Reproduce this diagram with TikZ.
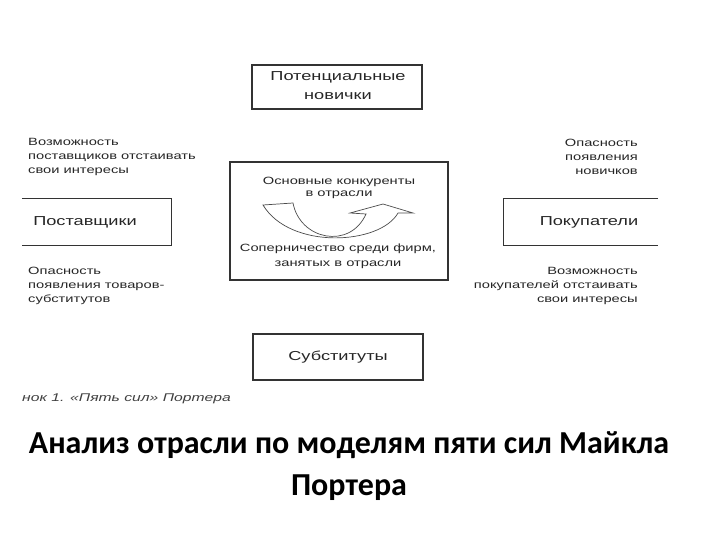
\documentclass[tikz,border=0pt]{standalone}
\usepackage{fontspec}
\setmainfont{Liberation Sans}[FakeStretch=1.4]
\newfontfamily\titlefont{Carlito}[BoldFont={Carlito Bold}]
\begin{document}
\begin{tikzpicture}[x=1pt,y=-1pt,
  box/.style={draw=black!80, line width=1.1pt, inner sep=0pt},
  openbox/.style={inner sep=0pt},
  boxtext/.style={font=\fontsize{13}{19}\selectfont, text=black!85, align=center, inner sep=0pt},
  small/.style={font=\fontsize{10.5}{14}\selectfont, text=black!85, inner sep=0pt},
  ctext/.style={font=\fontsize{10.5}{12}\selectfont, text=black!85, align=center, inner sep=0pt},
  arrowshape/.style={draw=black!70, line width=0.7pt, fill=white, line join=miter}
]
\useasboundingbox (0,0) rectangle (720,540);

% top box
\node[box, minimum width=170pt, minimum height=44pt] (newbox) at (337,87) {};
\node[boxtext] (newtxt) at (338,86) {Потенциальные\\новички};

% center box
\node[box, minimum width=218pt, minimum height=118pt] (center) at (339,221) {};
\node[ctext] (comp) at (339,188) {Основные конкуренты\\в отрасли};
\node[ctext, font=\fontsize{10.5}{15}\selectfont] (rival) at (338,256) {Соперничество среди фирм,\\занятых в отрасли};

% curved arrow
\draw[arrowshape] (263,205) -- (293,203)
   .. controls (300,240) and (350,250) .. (366,214)
   -- (350,213) -- (383,204) -- (413,213) -- (398,213)
   .. controls (380,245) and (290,250) .. (263,205) -- cycle;

% left box (open on the left)
\node[openbox, minimum width=149pt, minimum height=46pt] (supbox) at (96.5,222) {};
\draw[draw=black!80, line width=1.1pt] (supbox.north west) -- (supbox.north east) -- (supbox.south east) -- (supbox.south west);
\node[boxtext] (suptxt) at (85,222) {Поставщики};

% right box (open on the right)
\node[openbox, minimum width=154pt, minimum height=46pt] (buybox) at (581,222) {};
\draw[draw=black!80, line width=1.1pt] (buybox.north east) -- (buybox.north west) -- (buybox.south west) -- (buybox.south east);
\node[boxtext] (buytxt) at (589,222) {Покупатели};

% bottom box
\node[box, minimum width=170pt, minimum height=46pt] (subbox) at (338,357) {};
\node[boxtext] (subtxt) at (338,357) {Субституты};

% side labels
\node[small, anchor=west, align=left] (l1) at (28,157) {Возможность\\поставщиков отстаивать\\свои интересы};
\node[small, anchor=west, align=left] (l2) at (28,286) {Опасность\\появления товаров-\\субститутов};
\node[small, anchor=east, align=right] (r1) at (638,157) {Опасность\\появления\\новичков};
\node[small, anchor=east, align=right] (r2) at (638,286) {Возможность\\покупателей отстаивать\\свои интересы};

% caption
\node[small, anchor=west, font=\fontsize{11.2}{14}\selectfont\itshape, text=black!75] (cap) at (22,399) {нок 1. «Пять сил» Портера};

% title
\node[align=center, font=\titlefont\bfseries\fontsize{32}{42}\selectfont, inner sep=0pt] (title) at (349,466) {Анализ отрасли по моделям пяти сил Майкла\\Портера};
\end{tikzpicture}
\end{document}
